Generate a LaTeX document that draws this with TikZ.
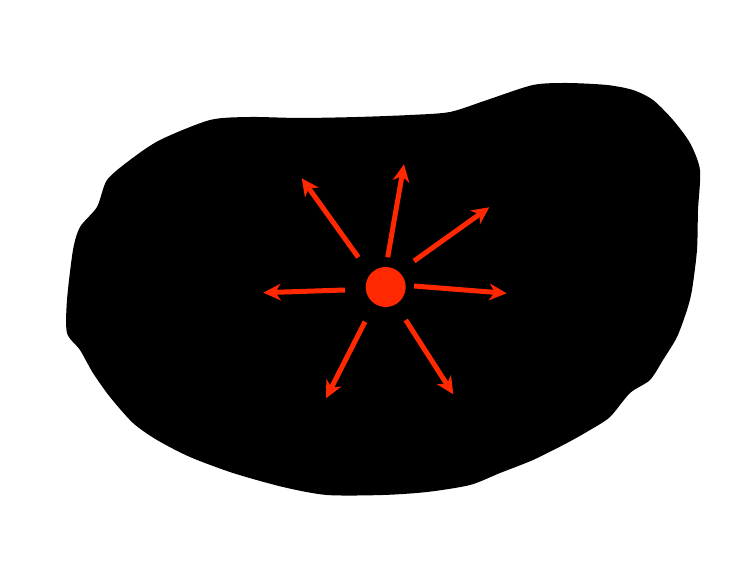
\documentclass[tikz,border=0pt]{standalone}
\usetikzlibrary{arrows.meta}
\definecolor{ray}{RGB}{255,40,0}
\begin{document}
\begin{tikzpicture}[x=0.75pt,y=-0.75pt,
  blob/.style={fill=black,draw=none},
  raydot/.style={circle,fill=ray,draw=none,minimum size=30pt,inner sep=0pt},
  rayarrow/.style={draw=ray,line width=3.75pt,-{Stealth[length=13pt,width=12.5pt,inset=4pt]}}]
\useasboundingbox (0,0) rectangle (751,567);
\fill[white] (0,0) rectangle (751,567);
\fill[blob] plot[smooth cycle,tension=0.45] coordinates {
 (250,117) (210,120) (160,140) (130,160) (107,180) (97,207) (80,227) (73,250)
 (67,300) (67,333) (80,350) (93,373) (110,397) (133,423) (157,440) (190,457)
 (233,473) (283,487) (327,495) (383,495) (427,492) (470,485) (500,473)
 (533,460) (567,443) (590,430) (610,417) (630,393) (650,380) (663,360)
 (677,337) (687,310) (692,290) (697,250) (698,210) (700,170) (690,143)
 (673,120) (653,100) (633,90) (607,85) (567,83) (533,85) (487,100)
 (450,112) (410,115) (357,117) (300,118)};
\node[raydot] (dot) at (385.7,287) {};
\coordinate (s1) at (358.3,257.3); \coordinate (t1) at (301.7,178.3);
\coordinate (s2) at (387.7,257.3); \coordinate (t2) at (404,164.3);
\coordinate (s3) at (414,261);     \coordinate (t3) at (489.3,207.3);
\coordinate (s4) at (414,286);     \coordinate (t4) at (506.7,293.3);
\coordinate (s5) at (405.7,320);   \coordinate (t5) at (453.3,394.3);
\coordinate (s6) at (365,321.7);   \coordinate (t6) at (326,398.3);
\coordinate (s7) at (345,290);     \coordinate (t7) at (263.3,292.7);
\foreach \i in {1,...,7} {\draw[rayarrow] (s\i) -- (t\i);}
\end{tikzpicture}
\end{document}
